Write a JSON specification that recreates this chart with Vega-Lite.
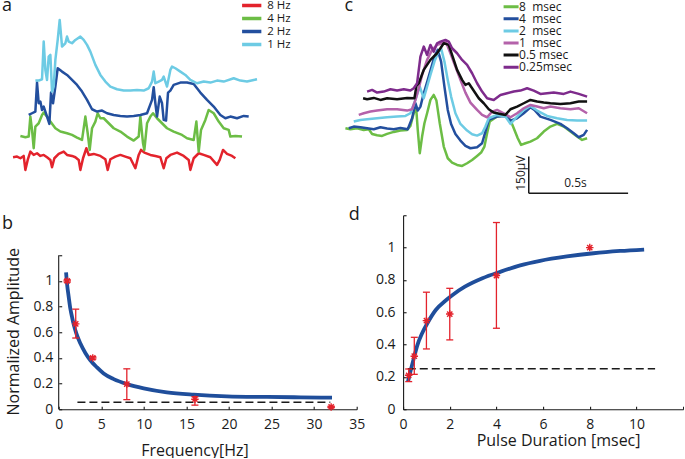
{
  "$schema": "https://vega.github.io/schema/vega-lite/v6.json",
  "background": "white",
  "padding": {"left": 1.7, "top": -3.75, "right": 0, "bottom": 0},
  "bounds": "flush",
  "columns": 2,
  "spacing": {"row": 17, "column": 46.4},
  "config": {
    "view": {"stroke": null},
    "font": "Open Sans",
    "title": {"fontSize": 18, "fontWeight": "normal", "font": "Open Sans", "anchor": "start", "frame": "group", "offset": 0, "baseline": "alphabetic", "color": "#1a1a1a"},
    "axis": {"grid": false, "domainColor": "#1a1a1a", "tickColor": "#1a1a1a", "labelColor": "#1a1a1a", "titleColor": "#1a1a1a", "labelFont": "Open Sans", "titleFont": "Open Sans", "labelFontSize": 14, "titleFontSize": 16, "titleFontWeight": "normal", "tickSize": -3, "domainWidth": 1.1, "tickWidth": 1.1, "labelFlush": false, "labelOverlap": false, "tickCount": 20},
    "legend": {"labelFont": "Open Sans", "labelColor": "#1a1a1a"}
  },
  "resolve": {"scale": {"color": "independent"}, "legend": {"color": "independent"}},
  "concat": [
    {
      "width": 298,
      "height": 195,
      "title": {"text": "a", "dx": -56.6, "dy": 19.5},
      "data": {"values": [
        {"freq":"8 Hz","t":38,"v":68},{"freq":"8 Hz","t":50,"v":70},{"freq":"8 Hz","t":60,"v":65},{"freq":"8 Hz","t":70,"v":72},{"freq":"8 Hz","t":75,"v":30},{"freq":"8 Hz","t":82,"v":60},{"freq":"8 Hz","t":90,"v":85},{"freq":"8 Hz","t":100,"v":75},{"freq":"8 Hz","t":110,"v":80},{"freq":"8 Hz","t":120,"v":72},{"freq":"8 Hz","t":130,"v":75},{"freq":"8 Hz","t":140,"v":68},{"freq":"8 Hz","t":150,"v":60},{"freq":"8 Hz","t":155,"v":38},{"freq":"8 Hz","t":162,"v":65},{"freq":"8 Hz","t":175,"v":78},{"freq":"8 Hz","t":190,"v":85},{"freq":"8 Hz","t":200,"v":75},{"freq":"8 Hz","t":215,"v":72},{"freq":"8 Hz","t":225,"v":68},{"freq":"8 Hz","t":235,"v":60},{"freq":"8 Hz","t":240,"v":30},{"freq":"8 Hz","t":248,"v":65},{"freq":"8 Hz","t":258,"v":95},{"freq":"8 Hz","t":265,"v":75},{"freq":"8 Hz","t":280,"v":78},{"freq":"8 Hz","t":300,"v":72},{"freq":"8 Hz","t":315,"v":62},{"freq":"8 Hz","t":322,"v":30},{"freq":"8 Hz","t":330,"v":62},{"freq":"8 Hz","t":345,"v":70},{"freq":"8 Hz","t":360,"v":75},{"freq":"8 Hz","t":375,"v":70},{"freq":"8 Hz","t":390,"v":65},{"freq":"8 Hz","t":405,"v":35},{"freq":"8 Hz","t":415,"v":75},{"freq":"8 Hz","t":422,"v":90},{"freq":"8 Hz","t":432,"v":82},{"freq":"8 Hz","t":450,"v":75},{"freq":"8 Hz","t":465,"v":72},{"freq":"8 Hz","t":480,"v":68},{"freq":"8 Hz","t":490,"v":35},{"freq":"8 Hz","t":498,"v":65},{"freq":"8 Hz","t":510,"v":75},{"freq":"8 Hz","t":530,"v":82},{"freq":"8 Hz","t":550,"v":72},{"freq":"8 Hz","t":565,"v":60},{"freq":"8 Hz","t":570,"v":30},{"freq":"8 Hz","t":580,"v":65},{"freq":"8 Hz","t":595,"v":80},{"freq":"8 Hz","t":610,"v":75},{"freq":"8 Hz","t":630,"v":68},{"freq":"8 Hz","t":650,"v":45},{"freq":"8 Hz","t":658,"v":60},{"freq":"8 Hz","t":668,"v":90},{"freq":"8 Hz","t":680,"v":78},{"freq":"8 Hz","t":695,"v":72},{"freq":"8 Hz","t":705,"v":65},
        {"freq":"4 Hz","t":60,"v":132},{"freq":"4 Hz","t":75,"v":128},{"freq":"4 Hz","t":85,"v":130},{"freq":"4 Hz","t":90,"v":190},{"freq":"4 Hz","t":95,"v":150},{"freq":"4 Hz","t":100,"v":95},{"freq":"4 Hz","t":105,"v":160},{"freq":"4 Hz","t":115,"v":170},{"freq":"4 Hz","t":125,"v":195},{"freq":"4 Hz","t":130,"v":202},{"freq":"4 Hz","t":140,"v":190},{"freq":"4 Hz","t":150,"v":175},{"freq":"4 Hz","t":165,"v":155},{"freq":"4 Hz","t":180,"v":145},{"freq":"4 Hz","t":200,"v":140},{"freq":"4 Hz","t":215,"v":135},{"freq":"4 Hz","t":230,"v":127},{"freq":"4 Hz","t":245,"v":120},{"freq":"4 Hz","t":255,"v":190},{"freq":"4 Hz","t":262,"v":140},{"freq":"4 Hz","t":268,"v":90},{"freq":"4 Hz","t":275,"v":155},{"freq":"4 Hz","t":285,"v":175},{"freq":"4 Hz","t":292,"v":200},{"freq":"4 Hz","t":300,"v":185},{"freq":"4 Hz","t":310,"v":185},{"freq":"4 Hz","t":325,"v":170},{"freq":"4 Hz","t":340,"v":155},{"freq":"4 Hz","t":360,"v":145},{"freq":"4 Hz","t":380,"v":130},{"freq":"4 Hz","t":400,"v":118},{"freq":"4 Hz","t":415,"v":130},{"freq":"4 Hz","t":420,"v":190},{"freq":"4 Hz","t":428,"v":110},{"freq":"4 Hz","t":432,"v":90},{"freq":"4 Hz","t":440,"v":170},{"freq":"4 Hz","t":450,"v":190},{"freq":"4 Hz","t":458,"v":200},{"freq":"4 Hz","t":470,"v":185},{"freq":"4 Hz","t":485,"v":170},{"freq":"4 Hz","t":500,"v":155},{"freq":"4 Hz","t":520,"v":145},{"freq":"4 Hz","t":545,"v":135},{"freq":"4 Hz","t":560,"v":125},{"freq":"4 Hz","t":580,"v":120},{"freq":"4 Hz","t":588,"v":175},{"freq":"4 Hz","t":595,"v":85},{"freq":"4 Hz","t":602,"v":150},{"freq":"4 Hz","t":615,"v":180},{"freq":"4 Hz","t":625,"v":210},{"freq":"4 Hz","t":640,"v":200},{"freq":"4 Hz","t":655,"v":175},{"freq":"4 Hz","t":670,"v":155},{"freq":"4 Hz","t":685,"v":150},{"freq":"4 Hz","t":690,"v":130},{"freq":"4 Hz","t":705,"v":132},{"freq":"4 Hz","t":725,"v":130},
        {"freq":"2 Hz","t":85,"v":195},{"freq":"2 Hz","t":95,"v":200},{"freq":"2 Hz","t":105,"v":205},{"freq":"2 Hz","t":110,"v":292},{"freq":"2 Hz","t":115,"v":230},{"freq":"2 Hz","t":120,"v":235},{"freq":"2 Hz","t":125,"v":210},{"freq":"2 Hz","t":130,"v":220},{"freq":"2 Hz","t":140,"v":190},{"freq":"2 Hz","t":147,"v":168},{"freq":"2 Hz","t":152,"v":262},{"freq":"2 Hz","t":158,"v":230},{"freq":"2 Hz","t":165,"v":280},{"freq":"2 Hz","t":172,"v":335},{"freq":"2 Hz","t":185,"v":325},{"freq":"2 Hz","t":200,"v":315},{"freq":"2 Hz","t":215,"v":300},{"freq":"2 Hz","t":230,"v":285},{"freq":"2 Hz","t":245,"v":265},{"freq":"2 Hz","t":260,"v":240},{"freq":"2 Hz","t":275,"v":212},{"freq":"2 Hz","t":290,"v":205},{"freq":"2 Hz","t":305,"v":208},{"freq":"2 Hz","t":320,"v":200},{"freq":"2 Hz","t":340,"v":195},{"freq":"2 Hz","t":360,"v":192},{"freq":"2 Hz","t":380,"v":190},{"freq":"2 Hz","t":400,"v":192},{"freq":"2 Hz","t":420,"v":195},{"freq":"2 Hz","t":440,"v":200},{"freq":"2 Hz","t":455,"v":240},{"freq":"2 Hz","t":460,"v":278},{"freq":"2 Hz","t":465,"v":230},{"freq":"2 Hz","t":470,"v":190},{"freq":"2 Hz","t":478,"v":250},{"freq":"2 Hz","t":485,"v":230},{"freq":"2 Hz","t":490,"v":180},{"freq":"2 Hz","t":497,"v":178},{"freq":"2 Hz","t":503,"v":262},{"freq":"2 Hz","t":510,"v":268},{"freq":"2 Hz","t":520,"v":285},{"freq":"2 Hz","t":540,"v":292},{"freq":"2 Hz","t":560,"v":292},{"freq":"2 Hz","t":580,"v":288},{"freq":"2 Hz","t":600,"v":262},{"freq":"2 Hz","t":620,"v":240},{"freq":"2 Hz","t":640,"v":220},{"freq":"2 Hz","t":660,"v":195},{"freq":"2 Hz","t":675,"v":185},{"freq":"2 Hz","t":690,"v":190},{"freq":"2 Hz","t":710,"v":185},{"freq":"2 Hz","t":730,"v":192},{"freq":"2 Hz","t":745,"v":190},
        {"freq":"1 Hz","t":105,"v":298},{"freq":"1 Hz","t":115,"v":298},{"freq":"1 Hz","t":125,"v":302},{"freq":"1 Hz","t":130,"v":415},{"freq":"1 Hz","t":135,"v":330},{"freq":"1 Hz","t":140,"v":300},{"freq":"1 Hz","t":145,"v":370},{"freq":"1 Hz","t":150,"v":375},{"freq":"1 Hz","t":155,"v":265},{"freq":"1 Hz","t":160,"v":280},{"freq":"1 Hz","t":165,"v":360},{"freq":"1 Hz","t":172,"v":420},{"freq":"1 Hz","t":178,"v":480},{"freq":"1 Hz","t":185,"v":400},{"freq":"1 Hz","t":195,"v":410},{"freq":"1 Hz","t":200,"v":430},{"freq":"1 Hz","t":205,"v":415},{"freq":"1 Hz","t":215,"v":410},{"freq":"1 Hz","t":225,"v":420},{"freq":"1 Hz","t":240,"v":430},{"freq":"1 Hz","t":250,"v":420},{"freq":"1 Hz","t":260,"v":405},{"freq":"1 Hz","t":270,"v":385},{"freq":"1 Hz","t":285,"v":345},{"freq":"1 Hz","t":300,"v":315},{"freq":"1 Hz","t":315,"v":295},{"freq":"1 Hz","t":330,"v":280},{"freq":"1 Hz","t":350,"v":272},{"freq":"1 Hz","t":370,"v":268},{"freq":"1 Hz","t":390,"v":268},{"freq":"1 Hz","t":410,"v":270},{"freq":"1 Hz","t":430,"v":268},{"freq":"1 Hz","t":445,"v":275},{"freq":"1 Hz","t":455,"v":295},{"freq":"1 Hz","t":460,"v":325},{"freq":"1 Hz","t":465,"v":290},{"freq":"1 Hz","t":475,"v":295},{"freq":"1 Hz","t":485,"v":300},{"freq":"1 Hz","t":490,"v":310},{"freq":"1 Hz","t":500,"v":280},{"freq":"1 Hz","t":510,"v":330},{"freq":"1 Hz","t":515,"v":340},{"freq":"1 Hz","t":525,"v":335},{"freq":"1 Hz","t":540,"v":325},{"freq":"1 Hz","t":555,"v":315},{"freq":"1 Hz","t":570,"v":300},{"freq":"1 Hz","t":590,"v":290},{"freq":"1 Hz","t":610,"v":295},{"freq":"1 Hz","t":630,"v":292},{"freq":"1 Hz","t":650,"v":298},{"freq":"1 Hz","t":670,"v":295},{"freq":"1 Hz","t":700,"v":305},{"freq":"1 Hz","t":720,"v":298},{"freq":"1 Hz","t":740,"v":295},{"freq":"1 Hz","t":760,"v":300},{"freq":"1 Hz","t":770,"v":302}
      ]},
      "mark": {"type": "line", "strokeWidth": 2.5, "strokeJoin": "round"},
      "encoding": {
        "x": {"field": "t", "type": "quantitative", "scale": {"domain": [175, 1069], "nice": false, "zero": false}, "axis": null},
        "y": {"field": "v", "type": "quantitative", "scale": {"domain": [-55, 530], "nice": false, "zero": false}, "axis": null},
        "color": {
          "field": "freq", "type": "nominal",
          "scale": {"domain": ["8 Hz", "4 Hz", "2 Hz", "1 Hz"], "range": ["#e3232c", "#6cbd45", "#234f9e", "#6dcbe4"]},
          "legend": {"orient": "none", "legendX": 183.4, "legendY": -3.7, "title": null, "symbolType": "M-4.5,0H4.5", "symbolSize": 36, "symbolStrokeWidth": 3.5, "labelFontSize": 11.5, "labelOffset": 13.6, "clipHeight": 11.9, "rowPadding": 0, "padding": 0}
        }
      }
    },
    {
      "width": 280,
      "height": 195,
      "title": {"text": "c", "dx": -58.7, "dy": 18.7},
      "layer": [
        {
          "data": {"values": [
            {"dur":"8 msec","t":45,"v":225},{"dur":"8 msec","t":60,"v":222},{"dur":"8 msec","t":80,"v":225},{"dur":"8 msec","t":100,"v":220},{"dur":"8 msec","t":115,"v":222},{"dur":"8 msec","t":125,"v":208},{"dur":"8 msec","t":140,"v":204},{"dur":"8 msec","t":155,"v":202},{"dur":"8 msec","t":170,"v":208},{"dur":"8 msec","t":190,"v":214},{"dur":"8 msec","t":210,"v":218},{"dur":"8 msec","t":230,"v":220},{"dur":"8 msec","t":240,"v":232},{"dur":"8 msec","t":250,"v":270},{"dur":"8 msec","t":257,"v":290},{"dur":"8 msec","t":262,"v":220},{"dur":"8 msec","t":268,"v":150},{"dur":"8 msec","t":275,"v":200},{"dur":"8 msec","t":282,"v":240},{"dur":"8 msec","t":290,"v":270},{"dur":"8 msec","t":300,"v":310},{"dur":"8 msec","t":310,"v":325},{"dur":"8 msec","t":318,"v":308},{"dur":"8 msec","t":328,"v":240},{"dur":"8 msec","t":340,"v":170},{"dur":"8 msec","t":352,"v":135},{"dur":"8 msec","t":365,"v":122},{"dur":"8 msec","t":380,"v":115},{"dur":"8 msec","t":395,"v":112},{"dur":"8 msec","t":410,"v":120},{"dur":"8 msec","t":425,"v":130},{"dur":"8 msec","t":440,"v":142},{"dur":"8 msec","t":452,"v":152},{"dur":"8 msec","t":462,"v":170},{"dur":"8 msec","t":470,"v":210},{"dur":"8 msec","t":478,"v":245},{"dur":"8 msec","t":500,"v":260},{"dur":"8 msec","t":525,"v":265},{"dur":"8 msec","t":540,"v":250},{"dur":"8 msec","t":550,"v":225},{"dur":"8 msec","t":562,"v":195},{"dur":"8 msec","t":572,"v":175},{"dur":"8 msec","t":585,"v":180},{"dur":"8 msec","t":600,"v":185},{"dur":"8 msec","t":620,"v":195},{"dur":"8 msec","t":640,"v":215},{"dur":"8 msec","t":660,"v":230},{"dur":"8 msec","t":680,"v":238},{"dur":"8 msec","t":700,"v":230},{"dur":"8 msec","t":720,"v":215},{"dur":"8 msec","t":740,"v":200},{"dur":"8 msec","t":755,"v":190},{"dur":"8 msec","t":770,"v":195},
            {"dur":"4 msec","t":55,"v":225},{"dur":"4 msec","t":70,"v":230},{"dur":"4 msec","t":90,"v":228},{"dur":"4 msec","t":110,"v":225},{"dur":"4 msec","t":130,"v":222},{"dur":"4 msec","t":150,"v":228},{"dur":"4 msec","t":170,"v":224},{"dur":"4 msec","t":190,"v":222},{"dur":"4 msec","t":210,"v":226},{"dur":"4 msec","t":232,"v":222},{"dur":"4 msec","t":245,"v":255},{"dur":"4 msec","t":255,"v":300},{"dur":"4 msec","t":262,"v":278},{"dur":"4 msec","t":270,"v":290},{"dur":"4 msec","t":280,"v":330},{"dur":"4 msec","t":292,"v":370},{"dur":"4 msec","t":302,"v":405},{"dur":"4 msec","t":312,"v":440},{"dur":"4 msec","t":322,"v":460},{"dur":"4 msec","t":332,"v":425},{"dur":"4 msec","t":342,"v":350},{"dur":"4 msec","t":352,"v":280},{"dur":"4 msec","t":362,"v":238},{"dur":"4 msec","t":375,"v":208},{"dur":"4 msec","t":390,"v":188},{"dur":"4 msec","t":405,"v":172},{"dur":"4 msec","t":420,"v":165},{"dur":"4 msec","t":440,"v":168},{"dur":"4 msec","t":455,"v":180},{"dur":"4 msec","t":465,"v":215},{"dur":"4 msec","t":475,"v":250},{"dur":"4 msec","t":500,"v":260},{"dur":"4 msec","t":525,"v":262},{"dur":"4 msec","t":540,"v":248},{"dur":"4 msec","t":560,"v":255},{"dur":"4 msec","t":580,"v":270},{"dur":"4 msec","t":600,"v":288},{"dur":"4 msec","t":612,"v":280},{"dur":"4 msec","t":630,"v":260},{"dur":"4 msec","t":660,"v":250},{"dur":"4 msec","t":690,"v":238},{"dur":"4 msec","t":710,"v":225},{"dur":"4 msec","t":730,"v":210},{"dur":"4 msec","t":745,"v":198},{"dur":"4 msec","t":760,"v":205},{"dur":"4 msec","t":770,"v":220},
            {"dur":"2 msec","t":70,"v":245},{"dur":"2 msec","t":90,"v":250},{"dur":"2 msec","t":110,"v":252},{"dur":"2 msec","t":140,"v":255},{"dur":"2 msec","t":170,"v":258},{"dur":"2 msec","t":200,"v":260},{"dur":"2 msec","t":225,"v":262},{"dur":"2 msec","t":240,"v":270},{"dur":"2 msec","t":255,"v":310},{"dur":"2 msec","t":268,"v":350},{"dur":"2 msec","t":280,"v":315},{"dur":"2 msec","t":290,"v":350},{"dur":"2 msec","t":300,"v":385},{"dur":"2 msec","t":312,"v":425},{"dur":"2 msec","t":322,"v":450},{"dur":"2 msec","t":332,"v":465},{"dur":"2 msec","t":342,"v":425},{"dur":"2 msec","t":352,"v":370},{"dur":"2 msec","t":362,"v":320},{"dur":"2 msec","t":375,"v":270},{"dur":"2 msec","t":390,"v":238},{"dur":"2 msec","t":410,"v":218},{"dur":"2 msec","t":425,"v":207},{"dur":"2 msec","t":440,"v":203},{"dur":"2 msec","t":455,"v":210},{"dur":"2 msec","t":465,"v":230},{"dur":"2 msec","t":475,"v":255},{"dur":"2 msec","t":500,"v":265},{"dur":"2 msec","t":525,"v":260},{"dur":"2 msec","t":540,"v":238},{"dur":"2 msec","t":560,"v":260},{"dur":"2 msec","t":580,"v":280},{"dur":"2 msec","t":600,"v":292},{"dur":"2 msec","t":620,"v":278},{"dur":"2 msec","t":650,"v":262},{"dur":"2 msec","t":680,"v":255},{"dur":"2 msec","t":710,"v":250},{"dur":"2 msec","t":740,"v":248},{"dur":"2 msec","t":770,"v":248},
            {"dur":"1 msec","t":85,"v":265},{"dur":"1 msec","t":100,"v":270},{"dur":"1 msec","t":120,"v":275},{"dur":"1 msec","t":140,"v":278},{"dur":"1 msec","t":170,"v":282},{"dur":"1 msec","t":200,"v":282},{"dur":"1 msec","t":230,"v":278},{"dur":"1 msec","t":245,"v":282},{"dur":"1 msec","t":255,"v":310},{"dur":"1 msec","t":265,"v":345},{"dur":"1 msec","t":275,"v":385},{"dur":"1 msec","t":290,"v":430},{"dur":"1 msec","t":305,"v":460},{"dur":"1 msec","t":320,"v":475},{"dur":"1 msec","t":335,"v":480},{"dur":"1 msec","t":345,"v":488},{"dur":"1 msec","t":360,"v":450},{"dur":"1 msec","t":375,"v":410},{"dur":"1 msec","t":390,"v":370},{"dur":"1 msec","t":405,"v":332},{"dur":"1 msec","t":420,"v":302},{"dur":"1 msec","t":440,"v":280},{"dur":"1 msec","t":455,"v":265},{"dur":"1 msec","t":470,"v":258},{"dur":"1 msec","t":485,"v":275},{"dur":"1 msec","t":500,"v":280},{"dur":"1 msec","t":520,"v":270},{"dur":"1 msec","t":540,"v":258},{"dur":"1 msec","t":560,"v":270},{"dur":"1 msec","t":580,"v":285},{"dur":"1 msec","t":600,"v":295},{"dur":"1 msec","t":620,"v":290},{"dur":"1 msec","t":640,"v":285},{"dur":"1 msec","t":660,"v":290},{"dur":"1 msec","t":690,"v":285},{"dur":"1 msec","t":720,"v":282},{"dur":"1 msec","t":745,"v":285},{"dur":"1 msec","t":770,"v":270},
            {"dur":"0.5 msec","t":98,"v":315},{"dur":"0.5 msec","t":110,"v":312},{"dur":"0.5 msec","t":130,"v":316},{"dur":"0.5 msec","t":150,"v":310},{"dur":"0.5 msec","t":170,"v":315},{"dur":"0.5 msec","t":200,"v":312},{"dur":"0.5 msec","t":230,"v":316},{"dur":"0.5 msec","t":252,"v":315},{"dur":"0.5 msec","t":258,"v":352},{"dur":"0.5 msec","t":265,"v":360},{"dur":"0.5 msec","t":280,"v":400},{"dur":"0.5 msec","t":300,"v":430},{"dur":"0.5 msec","t":320,"v":450},{"dur":"0.5 msec","t":340,"v":480},{"dur":"0.5 msec","t":355,"v":475},{"dur":"0.5 msec","t":365,"v":445},{"dur":"0.5 msec","t":380,"v":400},{"dur":"0.5 msec","t":395,"v":370},{"dur":"0.5 msec","t":405,"v":355},{"dur":"0.5 msec","t":415,"v":360},{"dur":"0.5 msec","t":425,"v":345},{"dur":"0.5 msec","t":435,"v":330},{"dur":"0.5 msec","t":445,"v":315},{"dur":"0.5 msec","t":460,"v":300},{"dur":"0.5 msec","t":475,"v":282},{"dur":"0.5 msec","t":490,"v":272},{"dur":"0.5 msec","t":510,"v":268},{"dur":"0.5 msec","t":525,"v":265},{"dur":"0.5 msec","t":540,"v":282},{"dur":"0.5 msec","t":560,"v":290},{"dur":"0.5 msec","t":580,"v":300},{"dur":"0.5 msec","t":600,"v":310},{"dur":"0.5 msec","t":620,"v":305},{"dur":"0.5 msec","t":640,"v":302},{"dur":"0.5 msec","t":660,"v":300},{"dur":"0.5 msec","t":690,"v":298},{"dur":"0.5 msec","t":720,"v":300},{"dur":"0.5 msec","t":745,"v":305},{"dur":"0.5 msec","t":770,"v":305},
            {"dur":"0.25msec","t":110,"v":335},{"dur":"0.25msec","t":125,"v":340},{"dur":"0.25msec","t":140,"v":332},{"dur":"0.25msec","t":160,"v":335},{"dur":"0.25msec","t":180,"v":342},{"dur":"0.25msec","t":200,"v":338},{"dur":"0.25msec","t":220,"v":342},{"dur":"0.25msec","t":240,"v":338},{"dur":"0.25msec","t":250,"v":345},{"dur":"0.25msec","t":260,"v":360},{"dur":"0.25msec","t":265,"v":400},{"dur":"0.25msec","t":270,"v":440},{"dur":"0.25msec","t":280,"v":470},{"dur":"0.25msec","t":290,"v":445},{"dur":"0.25msec","t":300,"v":475},{"dur":"0.25msec","t":310,"v":455},{"dur":"0.25msec","t":320,"v":480},{"dur":"0.25msec","t":330,"v":485},{"dur":"0.25msec","t":345,"v":490},{"dur":"0.25msec","t":355,"v":485},{"dur":"0.25msec","t":365,"v":465},{"dur":"0.25msec","t":380,"v":450},{"dur":"0.25msec","t":395,"v":430},{"dur":"0.25msec","t":410,"v":415},{"dur":"0.25msec","t":425,"v":390},{"dur":"0.25msec","t":440,"v":360},{"dur":"0.25msec","t":455,"v":335},{"dur":"0.25msec","t":470,"v":315},{"dur":"0.25msec","t":490,"v":310},{"dur":"0.25msec","t":510,"v":325},{"dur":"0.25msec","t":530,"v":330},{"dur":"0.25msec","t":550,"v":335},{"dur":"0.25msec","t":570,"v":338},{"dur":"0.25msec","t":590,"v":345},{"dur":"0.25msec","t":610,"v":338},{"dur":"0.25msec","t":630,"v":328},{"dur":"0.25msec","t":650,"v":330},{"dur":"0.25msec","t":670,"v":332},{"dur":"0.25msec","t":700,"v":328},{"dur":"0.25msec","t":720,"v":335},{"dur":"0.25msec","t":745,"v":328},{"dur":"0.25msec","t":770,"v":320}
          ]},
          "mark": {"type": "line", "strokeWidth": 2.5, "strokeJoin": "round"},
          "encoding": {
            "x": {"field": "t", "type": "quantitative", "scale": {"domain": [218, 1058], "nice": false, "zero": false}, "axis": null},
            "y": {"field": "v", "type": "quantitative", "scale": {"domain": [15, 600], "nice": false, "zero": false}, "axis": null},
            "color": {
              "field": "dur", "type": "nominal",
              "scale": {"domain": ["8 msec", "4 msec", "2 msec", "1 msec", "0.5 msec", "0.25msec"], "range": ["#6cbd45", "#234f9e", "#6dcbe4", "#b462aa", "#111111", "#7e2b8c"]},
              "legend": {"orient": "none", "legendX": 100.5, "legendY": -2.5, "title": null, "symbolType": "M-3,0H3", "symbolSize": 36, "symbolStrokeWidth": 3, "labelFontSize": 12, "labelOffset": 3.5, "clipHeight": 11.9, "rowPadding": -0.9, "padding": 0,
                "labelExpr": "length(datum.label) == 6 ? replace(datum.label, ' ', '\u00a0\u00a0') : datum.label"}
            }
          }
        },
        {
          "data": {"values": [{"t": 595, "t2": 595, "v": 140, "v2": 30}, {"t": 595, "t2": 893, "v": 30, "v2": 30}]},
          "mark": {"type": "rule", "color": "#1a1a1a", "strokeWidth": 1.5},
          "encoding": {
            "x": {"field": "t", "type": "quantitative"},
            "x2": {"field": "t2"},
            "y": {"field": "v", "type": "quantitative"},
            "y2": {"field": "v2"}
          }
        },
        {
          "data": {"values": [{"label": "150µV", "t": 572, "v": 90}]},
          "mark": {"type": "text", "angle": 270, "fontSize": 12, "align": "center", "baseline": "middle", "color": "#1a1a1a"},
          "encoding": {
            "x": {"field": "t", "type": "quantitative"},
            "y": {"field": "v", "type": "quantitative"},
            "text": {"field": "label"}
          }
        },
        {
          "data": {"values": [{"label": "0.5s", "t": 735, "v": 60}]},
          "mark": {"type": "text", "fontSize": 12, "align": "center", "baseline": "middle", "color": "#1a1a1a"},
          "encoding": {
            "x": {"field": "t", "type": "quantitative"},
            "y": {"field": "v", "type": "quantitative"},
            "text": {"field": "label"}
          }
        }
      ]
    },
    {
      "width": 298,
      "height": 194,
      "title": {"text": "b", "dx": -56.6, "dy": 21.7},
      "layer": [
        {
          "data": {"values": [
            {"f":0.865,"amp":1.067},{"f":0.98,"amp":0.977},{"f":1.18,"amp":0.873},{"f":1.37,"amp":0.783},{"f":1.57,"amp":0.718},{"f":1.76,"amp":0.661},{"f":2.08,"amp":0.589},{"f":2.55,"amp":0.512},{"f":3.13,"amp":0.439},{"f":3.72,"amp":0.382},{"f":4.5,"amp":0.326},{"f":5.28,"amp":0.279},{"f":6.46,"amp":0.235},{"f":8.03,"amp":0.196},{"f":9.98,"amp":0.163},{"f":12.7,"amp":0.132},{"f":15.85,"amp":0.114},{"f":19.76,"amp":0.101},{"f":24.46,"amp":0.096},{"f":28.4,"amp":0.093},{"f":32.1,"amp":0.09}
          ]},
          "mark": {"type": "line", "color": "#1f4e9b", "strokeWidth": 3.8, "interpolate": "monotone"},
          "encoding": {
            "x": {"field": "f", "type": "quantitative", "title": "Frequency[Hz]", "scale": {"domain": [0, 35], "nice": false, "zero": false},
              "axis": {"values": [0, 5, 10, 15, 20, 25, 30, 35], "tickCount": 20, "format": "d", "titleX": 135.7, "titleY": 46, "titleAlign": "center", "titleBaseline": "alphabetic", "labelPadding": 11, "labelOverlap": false, "labelFlush": false}},
            "y": {"field": "amp", "type": "quantitative", "title": "Normalized Amplitude", "scale": {"domain": [0, 1.5117], "nice": false, "zero": false},
              "axis": {"values": [0, 0.2, 0.4, 0.6, 0.8, 1, 1.2], "tickCount": 20, "format": ".1~f", "domain": false, "labelExpr": "datum.value > 1.1 ? '' : datum.label", "titleX": -40, "titleY": 116, "titleAngle": 270, "titleAlign": "center", "titleBaseline": "alphabetic", "labelPadding": 9, "labelOverlap": false, "labelFlush": false}}
          }
        },
        {
          "data": {"values": [{"f": 0, "amp": 0, "amp2": 1.2}]},
          "mark": {"type": "rule", "color": "#1a1a1a", "strokeWidth": 1.1},
          "encoding": {
            "x": {"field": "f", "type": "quantitative", "title": "Frequency[Hz]"},
            "y": {"field": "amp", "type": "quantitative", "title": "Normalized Amplitude"},
            "y2": {"field": "amp2"}
          }
        },
        {
          "data": {"values": [{"f": 2.2, "f2": 31.9, "amp": 0.055}]},
          "mark": {"type": "rule", "color": "#1a1a1a", "strokeWidth": 1.5, "strokeDash": [8, 4]},
          "encoding": {
            "x": {"field": "f", "type": "quantitative", "title": "Frequency[Hz]"},
            "x2": {"field": "f2"},
            "y": {"field": "amp", "type": "quantitative", "title": "Normalized Amplitude"}
          }
        },
        {
          "data": {"values": [
            {"f":1,"amp":1.0,"lo":0.99,"hi":1.01},{"f":2,"amp":0.665,"lo":0.555,"hi":0.78},{"f":4,"amp":0.4,"lo":0.39,"hi":0.41},{"f":8,"amp":0.196,"lo":0.075,"hi":0.315},{"f":16,"amp":0.078,"lo":0.032,"hi":0.098},{"f":32,"amp":0.018,"lo":0.012,"hi":0.024}
          ]},
          "layer": [
            {"mark": {"type": "rule", "color": "#e3232c", "strokeWidth": 1.3},
             "encoding": {"x": {"field": "f", "type": "quantitative", "title": "Frequency[Hz]"}, "y": {"field": "lo", "type": "quantitative", "title": "Normalized Amplitude"}, "y2": {"field": "hi"}}},
            {"mark": {"type": "tick", "orient": "horizontal", "color": "#e3232c", "size": 7, "thickness": 1.3, "opacity": 1},
             "encoding": {"x": {"field": "f", "type": "quantitative", "title": "Frequency[Hz]"}, "y": {"field": "lo", "type": "quantitative", "title": "Normalized Amplitude"}}},
            {"mark": {"type": "tick", "orient": "horizontal", "color": "#e3232c", "size": 7, "thickness": 1.3, "opacity": 1},
             "encoding": {"x": {"field": "f", "type": "quantitative", "title": "Frequency[Hz]"}, "y": {"field": "hi", "type": "quantitative", "title": "Normalized Amplitude"}}},
            {"mark": {"type": "point", "shape": "M-1,0H1M0,-1V1M-0.7,-0.7L0.7,0.7M-0.7,0.7L0.7,-0.7", "size": 56, "filled": false, "stroke": "#e3232c", "strokeWidth": 1.4, "opacity": 1},
             "encoding": {"x": {"field": "f", "type": "quantitative", "title": "Frequency[Hz]"}, "y": {"field": "amp", "type": "quantitative", "title": "Normalized Amplitude"}}}
          ]
        }
      ]
    },
    {
      "width": 280,
      "height": 194,
      "title": {"text": "d", "dx": -54.4, "dy": 20},
      "layer": [
        {
          "data": {"values": [
            {"dur":0.21,"amp":0.171},{"dur":0.33,"amp":0.243},{"dur":0.45,"amp":0.31},{"dur":0.62,"amp":0.4},{"dur":0.8,"amp":0.465},{"dur":1.04,"amp":0.532},{"dur":1.4,"amp":0.614},{"dur":1.85,"amp":0.676},{"dur":2.15,"amp":0.71},{"dur":2.65,"amp":0.758},{"dur":3.4,"amp":0.81},{"dur":4.16,"amp":0.85},{"dur":5.02,"amp":0.89},{"dur":5.87,"amp":0.918},{"dur":7.02,"amp":0.945},{"dur":8.16,"amp":0.965},{"dur":9.3,"amp":0.979},{"dur":10.33,"amp":0.988}
          ]},
          "mark": {"type": "line", "color": "#1f4e9b", "strokeWidth": 3.8, "interpolate": "monotone"},
          "encoding": {
            "x": {"field": "dur", "type": "quantitative", "title": "Pulse Duration [msec]", "scale": {"domain": [0, 12], "nice": false, "zero": false},
              "axis": {"values": [0, 2, 4, 6, 8, 10, 12], "tickCount": 20, "format": "d", "labelExpr": "datum.value > 11 ? '' : datum.label", "titleX": 155, "titleY": 36, "titleAlign": "center", "titleBaseline": "alphabetic", "labelPadding": 11, "labelOverlap": false, "labelFlush": false}},
            "y": {"field": "amp", "type": "quantitative", "title": null, "scale": {"domain": [0, 1.2], "nice": false, "zero": false},
              "axis": {"values": [0, 0.2, 0.4, 0.6, 0.8, 1, 1.2], "tickCount": 20, "format": ".1~f", "labelExpr": "datum.value > 1.1 ? '' : datum.label", "labelPadding": 11, "labelOverlap": false, "labelFlush": false}}
          }
        },
        {
          "data": {"values": [{"dur": 0.2, "dur2": 10.8, "amp": 0.25}]},
          "mark": {"type": "rule", "color": "#1a1a1a", "strokeWidth": 1.5, "strokeDash": [8, 4]},
          "encoding": {
            "x": {"field": "dur", "type": "quantitative", "title": "Pulse Duration [msec]"},
            "x2": {"field": "dur2"},
            "y": {"field": "amp", "type": "quantitative", "title": null}
          }
        },
        {
          "data": {"values": [
            {"dur":0.24,"amp":0.21,"lo":0.171,"hi":0.249},{"dur":0.48,"amp":0.328,"lo":0.216,"hi":0.445},{"dur":1,"amp":0.548,"lo":0.373,"hi":0.724},{"dur":2,"amp":0.589,"lo":0.429,"hi":0.748},{"dur":4,"amp":0.827,"lo":0.501,"hi":1.155},{"dur":8,"amp":1.0,"lo":1.0,"hi":1.0}
          ]},
          "layer": [
            {"mark": {"type": "rule", "color": "#e3232c", "strokeWidth": 1.3},
             "encoding": {"x": {"field": "dur", "type": "quantitative", "title": "Pulse Duration [msec]"}, "y": {"field": "lo", "type": "quantitative", "title": null}, "y2": {"field": "hi"}}},
            {"transform": [{"filter": "datum.hi > datum.lo"}],
             "mark": {"type": "tick", "orient": "horizontal", "color": "#e3232c", "size": 7, "thickness": 1.3, "opacity": 1},
             "encoding": {"x": {"field": "dur", "type": "quantitative", "title": "Pulse Duration [msec]"}, "y": {"field": "lo", "type": "quantitative", "title": null}}},
            {"transform": [{"filter": "datum.hi > datum.lo"}],
             "mark": {"type": "tick", "orient": "horizontal", "color": "#e3232c", "size": 7, "thickness": 1.3, "opacity": 1},
             "encoding": {"x": {"field": "dur", "type": "quantitative", "title": "Pulse Duration [msec]"}, "y": {"field": "hi", "type": "quantitative", "title": null}}},
            {"mark": {"type": "point", "shape": "M-1,0H1M0,-1V1M-0.7,-0.7L0.7,0.7M-0.7,0.7L0.7,-0.7", "size": 56, "filled": false, "stroke": "#e3232c", "strokeWidth": 1.4, "opacity": 1},
             "encoding": {"x": {"field": "dur", "type": "quantitative", "title": "Pulse Duration [msec]"}, "y": {"field": "amp", "type": "quantitative", "title": null}}}
          ]
        }
      ]
    }
  ]
}
